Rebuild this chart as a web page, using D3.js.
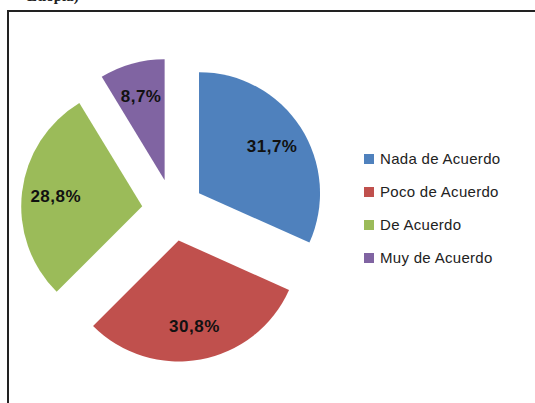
<!DOCTYPE html>
<html lang="es">
<head>
<meta charset="UTF-8" />
<title>Pie chart</title>
<script src="https://d3js.org/d3.v7.min.js"></script>
<style>
  body { margin: 0; background: #fff; overflow: hidden; }
  svg { display: block; }
  .label { font-family: "Liberation Sans", Arial, sans-serif; font-weight: bold; font-size: 17px; letter-spacing: 0.5px; fill: #111; }
  .legend text { font-family: "Liberation Sans", Arial, sans-serif; font-size: 15px; fill: #222; letter-spacing: 0.3px; }
</style>
</head>
<body>
<svg id="chart"></svg>
<script>
// data
const categories = ["Nada de Acuerdo", "Poco de Acuerdo", "De Acuerdo", "Muy de Acuerdo"];
const values = [31.7, 30.8, 28.8, 8.7];
const colors = ["#4F81BD", "#C0504D", "#9BBB59", "#8064A2"];

const width = 535, height = 403;
const svg = d3.select("#chart").attr("width", width).attr("height", height);

// caption line above the frame, cut by the top edge like in the source
svg.append("text")
  .attr("x", 27).attr("y", 1)
  .style("font-family", "Liberation Serif, serif")
  .style("font-weight", "bold")
  .style("font-size", "15px")
  .style("fill", "#222")
  .text("Etiopía)");

// frame (runs off the right and bottom edges)
svg.append("rect")
  .attr("x", 8).attr("y", 11)
  .attr("width", 600).attr("height", 500)
  .attr("fill", "none")
  .attr("stroke", "#222")
  .attr("stroke-width", 2);

const cx = 173, cy = 210, r = 121, explode = 31;

const pie = d3.pie().sort(null).value(d => d)(values);
const arc = d3.arc().innerRadius(0).outerRadius(r);
const labelArc = d3.arc().innerRadius(0).outerRadius(r * 1.44);

const g = svg.append("g").attr("transform", `translate(${cx},${cy})`);

const slice = g.selectAll("g.slice")
  .data(pie)
  .enter()
  .append("g")
  .attr("class", "slice")
  .attr("transform", d => {
    const a = (d.startAngle + d.endAngle) / 2;
    return `translate(${explode * Math.sin(a)},${-explode * Math.cos(a)})`;
  });

slice.append("path")
  .attr("d", arc)
  .attr("fill", (d, i) => colors[i]);

slice.append("text")
  .attr("class", "label")
  .attr("transform", d => `translate(${labelArc.centroid(d)})`)
  .attr("text-anchor", "middle")
  .attr("dy", "0.36em")
  .text(d => d.data.toFixed(1).replace(".", ",") + "%");

// legend
const legend = svg.append("g").attr("class", "legend").attr("transform", "translate(364,159)");
const row = legend.selectAll("g")
  .data(categories)
  .enter()
  .append("g")
  .attr("transform", (d, i) => `translate(0,${i * 33})`);

row.append("rect")
  .attr("x", 0).attr("y", -5)
  .attr("width", 10).attr("height", 10)
  .attr("fill", (d, i) => colors[i]);

row.append("text")
  .attr("x", 16)
  .attr("dy", "0.36em")
  .text(d => d);
</script>
</body>
</html>
